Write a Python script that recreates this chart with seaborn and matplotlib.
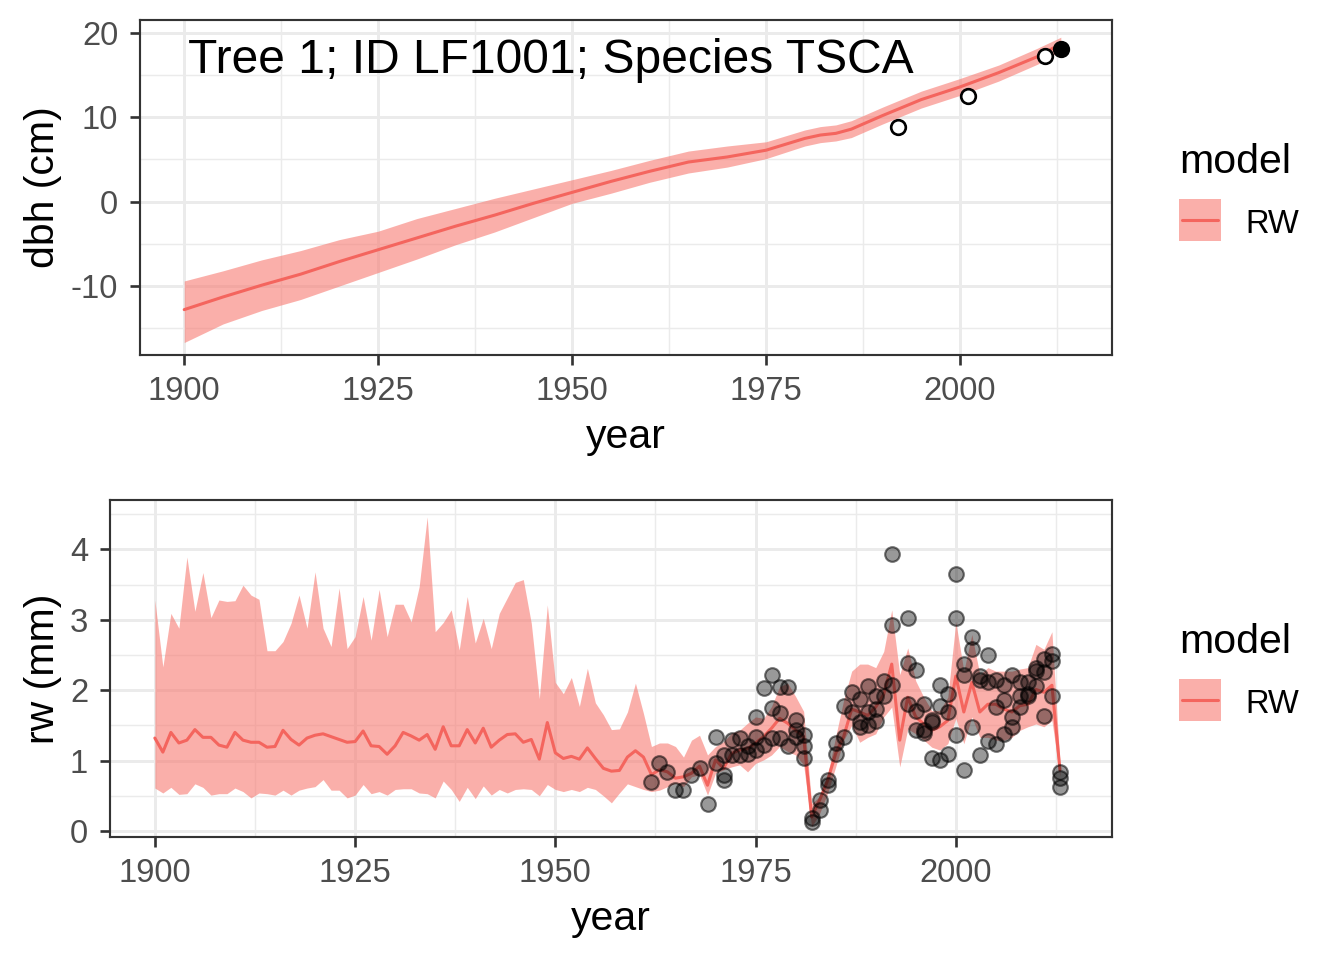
import numpy as np
import pandas as pd
import matplotlib
matplotlib.use('Agg')
import matplotlib.pyplot as plt
import seaborn as sns
from matplotlib.patches import Rectangle
from matplotlib.lines import Line2D
from matplotlib.ticker import MultipleLocator

# ---- datos: dbh (panel superior) ----
dbh_year = [1900, 1905, 1910, 1915, 1920, 1925, 1930, 1935, 1940, 1945, 1950, 1955,
            1960, 1965, 1970, 1975, 1980, 1982, 1984, 1986, 1988, 1990, 1995, 2000,
            2005, 2010, 2013]
dbh_med = [-12.8, -11.3, -9.9, -8.6, -7.1, -5.7, -4.3, -2.9, -1.6, -0.2, 1.1, 2.4,
           3.6, 4.7, 5.3, 6.1, 7.5, 7.9, 8.1, 8.6, 9.4, 10.2, 12.1, 13.6,
           15.3, 17.2, 18.7]
dbh_lo = [-16.7, -14.5, -12.9, -11.6, -10.0, -8.4, -6.8, -5.1, -3.6, -1.9, -0.2, 1.0,
          2.3, 3.4, 4.1, 5.1, 6.6, 7.0, 7.2, 7.6, 8.4, 9.2, 11.1, 12.6,
          14.3, 16.3, 17.9]
dbh_hi = [-9.4, -8.2, -6.9, -5.8, -4.5, -3.5, -2.0, -0.8, 0.4, 1.5, 2.6, 3.7,
          4.9, 6.0, 6.6, 7.1, 8.5, 8.9, 9.1, 9.6, 10.4, 11.2, 13.1, 14.6,
          16.2, 18.2, 19.5]
obs_year = [1992, 2001, 2011]
obs_dbh = [8.9, 12.5, 17.3]
last_year = [2013]
last_dbh = [18.1]

# ---- datos: rw (panel inferior) ----
rw_year = list(range(1900, 2014))
rw_med = [1.32, 1.12, 1.40, 1.25, 1.29, 1.44, 1.33, 1.33, 1.22, 1.19,
          1.40, 1.29, 1.26, 1.26, 1.19, 1.20, 1.43, 1.30, 1.22, 1.32,
          1.36, 1.38, 1.34, 1.30, 1.26, 1.27, 1.42, 1.21, 1.20, 1.09,
          1.21, 1.40, 1.35, 1.29, 1.37, 1.16, 1.48, 1.21, 1.21, 1.44,
          1.25, 1.46, 1.19, 1.29, 1.37, 1.38, 1.26, 1.30, 1.02, 1.54,
          1.11, 1.03, 1.06, 1.02, 1.18, 1.03, 0.89, 0.85, 0.86, 1.05,
          1.14, 1.05, 0.80, 0.87, 0.84, 0.75, 0.77, 0.82, 0.92, 0.65,
          1.01, 0.89, 1.10, 1.15, 1.17, 1.25, 1.34, 1.46, 1.60, 1.53,
          1.43, 1.34, 0.20, 0.44, 0.72, 1.10, 1.34, 1.73, 1.69, 1.64,
          1.76, 1.94, 2.37, 1.29, 1.90, 1.62, 1.52, 1.43, 1.48, 1.57,
          2.20, 1.69, 2.11, 1.69, 1.80, 1.80, 1.73, 1.69, 1.78, 1.80,
          2.01, 1.97, 2.07, 0.87]
rw_hi = [3.28, 2.33, 3.09, 2.88, 3.89, 3.12, 3.67, 3.03, 3.28, 3.26,
         3.27, 3.49, 3.35, 3.29, 2.56, 2.56, 2.69, 2.95, 3.35, 2.88,
         3.68, 2.88, 2.62, 3.45, 2.59, 2.76, 3.33, 2.71, 3.43, 2.76,
         3.22, 3.22, 2.97, 3.47, 4.46, 2.83, 2.96, 3.14, 2.57, 3.33,
         2.67, 3.02, 2.59, 3.09, 3.31, 3.53, 3.57, 2.95, 1.88, 3.21,
         2.11, 1.95, 2.18, 1.77, 2.31, 1.82, 1.65, 1.44, 1.45, 1.69,
         2.10, 1.67, 1.20, 1.25, 1.25, 1.20, 1.05, 1.29, 1.36, 1.08,
         1.20, 1.27, 1.39, 1.43, 1.53, 1.62, 1.60, 1.77, 2.05, 2.10,
         1.91, 1.70, 0.39, 0.49, 0.80, 1.34, 1.86, 2.27, 2.37, 2.37,
         2.32, 2.55, 3.14, 2.22, 2.60, 2.13, 1.90, 1.71, 1.71, 1.90,
         2.97, 2.27, 2.79, 2.22, 2.32, 2.27, 2.27, 2.27, 2.30, 2.32,
         2.65, 2.58, 2.83, 0.96]
rw_lo = [0.61, 0.54, 0.62, 0.52, 0.53, 0.67, 0.62, 0.51, 0.53, 0.53,
         0.61, 0.56, 0.47, 0.54, 0.53, 0.51, 0.58, 0.51, 0.58, 0.61,
         0.63, 0.73, 0.58, 0.58, 0.47, 0.51, 0.66, 0.53, 0.56, 0.51,
         0.59, 0.60, 0.60, 0.54, 0.53, 0.47, 0.71, 0.59, 0.42, 0.62,
         0.46, 0.64, 0.51, 0.59, 0.54, 0.59, 0.60, 0.59, 0.50, 0.66,
         0.59, 0.56, 0.59, 0.56, 0.62, 0.59, 0.50, 0.40, 0.54, 0.67,
         0.63, 0.59, 0.56, 0.58, 0.63, 0.68, 0.63, 0.77, 0.80, 0.51,
         0.82, 0.87, 0.91, 0.94, 0.84, 0.96, 1.01, 1.08, 1.20, 1.13,
         1.08, 0.94, 0.06, 0.25, 0.54, 0.91, 1.29, 1.50, 1.26, 1.33,
         1.38, 1.62, 1.76, 0.91, 1.45, 1.38, 1.29, 1.19, 1.15, 1.24,
         1.60, 1.24, 1.62, 1.33, 1.33, 1.29, 1.29, 1.33, 1.43, 1.48,
         1.52, 1.48, 1.57, 0.77]

# mediciones de anillos (núcleos)
pt_year = [1962, 1963, 1964, 1965, 1966, 1967, 1968, 1969,
           1970, 1970, 1971, 1971, 1971, 1972, 1972, 1973, 1973, 1974, 1974,
           1975, 1975, 1975, 1976, 1976, 1977, 1977, 1977, 1978, 1978, 1978,
           1979, 1979, 1980, 1980, 1980, 1981, 1981, 1981, 1982, 1982,
           1983, 1983, 1984, 1984, 1985, 1985, 1986, 1986,
           1987, 1987, 1988, 1988, 1988, 1989, 1989, 1989, 1990, 1990, 1990,
           1991, 1991, 1992, 1992, 1992, 1994, 1994, 1994, 1995, 1995, 1995,
           1996, 1996, 1996, 1997, 1997, 1997, 1998, 1998, 1998, 1999, 1999, 1999,
           2000, 2000, 2000, 2001, 2001, 2001, 2002, 2002, 2002, 2003, 2003, 2003,
           2004, 2004, 2004, 2005, 2005, 2005, 2006, 2006, 2006, 2007, 2007, 2007,
           2008, 2008, 2008, 2009, 2009, 2009, 2010, 2010, 2010, 2011, 2011, 2011,
           2012, 2012, 2012, 2013, 2013, 2013]
pt_rw = [0.70, 0.96, 0.84, 0.58, 0.58, 0.80, 0.89, 0.39,
         1.34, 0.96, 0.80, 0.73, 1.08, 1.29, 1.08, 1.32, 1.08, 1.20, 1.10,
         1.62, 1.34, 1.15, 2.03, 1.22, 2.22, 1.74, 1.32, 2.05, 1.67, 1.32,
         2.05, 1.20, 1.58, 1.44, 1.34, 1.36, 1.20, 1.03, 0.18, 0.13,
         0.44, 0.30, 0.72, 0.65, 1.25, 1.10, 1.34, 1.77,
         1.97, 1.69, 1.87, 1.55, 1.48, 2.06, 1.69, 1.50, 1.92, 1.73, 1.56,
         2.13, 1.92, 3.93, 2.93, 2.07, 3.03, 2.39, 1.81, 2.28, 1.71, 1.43,
         1.81, 1.43, 1.39, 1.57, 1.55, 1.03, 2.07, 1.78, 1.01, 1.94, 1.69, 1.09,
         3.65, 3.03, 1.36, 2.37, 2.22, 0.87, 2.76, 2.59, 1.48, 2.20, 2.15, 1.08,
         2.50, 2.11, 1.28, 2.15, 1.76, 1.24, 2.07, 1.86, 1.38, 2.22, 1.62, 1.48,
         2.11, 1.92, 1.76, 2.11, 1.94, 1.92, 2.32, 2.06, 2.27, 2.44, 2.26, 1.63,
         2.51, 2.41, 1.92, 0.84, 0.75, 0.62]

dbh_df = pd.DataFrame({'year': dbh_year, 'dbh': dbh_med, 'lo': dbh_lo, 'hi': dbh_hi})
rw_df = pd.DataFrame({'year': rw_year, 'rw': rw_med, 'lo': rw_lo, 'hi': rw_hi})
pts_df = pd.DataFrame({'year': pt_year, 'rw': pt_rw})

# ---- estilo tipo ggplot theme_bw ----
sns.set_theme(style='white')
plt.rcParams['font.family'] = ['Liberation Sans', 'DejaVu Sans']
plt.rcParams['axes.unicode_minus'] = False

RED = '#F8766D'
LINE_RED = '#F4655E'
BAND_ALPHA = 0.58
GRID = '#EBEBEB'
TICK_FS = 12.3
TITLE_FS = 15.4
W, H = 1344, 960

fig = plt.figure(figsize=(7, 5), dpi=192)
ax1 = fig.add_axes([140 / W, 1 - 355 / H, 972 / W, 335 / H])
ax2 = fig.add_axes([110 / W, 1 - 837 / H, 1002 / W, 337 / H])


def style_axis(ax, xlim, ylim, ymajor, yminor, ylabel, ylab_x):
    ax.set_xlim(*xlim)
    ax.set_ylim(*ylim)
    ax.xaxis.set_major_locator(MultipleLocator(25))
    ax.xaxis.set_minor_locator(MultipleLocator(12.5))
    ax.yaxis.set_major_locator(MultipleLocator(ymajor))
    ax.yaxis.set_minor_locator(MultipleLocator(yminor))
    ax.grid(True, which='major', color=GRID, linewidth=1.1, zorder=0)
    ax.grid(True, which='minor', color=GRID, linewidth=0.55, zorder=0)
    ax.set_axisbelow(True)
    for s in ax.spines.values():
        s.set_color('#333333')
        s.set_linewidth(0.8)
    ax.tick_params(axis='both', which='major', length=3.9, width=1.0, color='#333333',
                   labelsize=TICK_FS, labelcolor='#4D4D4D', bottom=True, left=True)
    ax.tick_params(axis='x', which='major', pad=4.0)
    ax.tick_params(axis='y', which='major', pad=4.3)
    ax.tick_params(axis='both', which='minor', length=0)
    ax.set_xlabel('year', fontsize=TITLE_FS, color='black', labelpad=4)
    ax.set_ylabel(ylabel, fontsize=TITLE_FS, color='black')
    ax.yaxis.set_label_coords(ylab_x, 0.5)


def add_legend(offset):
    # leyenda estilo ggplot: titulo, caja con banda + linea, etiqueta
    fig.text(1179 / W, 1 - (172.7 + offset) / H, 'model', fontsize=TITLE_FS,
             color='black', ha='left', va='baseline')
    fig.patches.append(Rectangle((1179 / W, 1 - (241 + offset) / H), 42 / W, 42 / H,
                                 transform=fig.transFigure, facecolor=RED,
                                 alpha=BAND_ALPHA, edgecolor='none'))
    fig.lines.append(Line2D([1182 / W, 1218 / W], [1 - (220 + offset) / H] * 2,
                            transform=fig.transFigure, color=LINE_RED, linewidth=1.15))
    fig.text(1245 / W, 1 - (232.7 + offset) / H, 'RW', fontsize=TICK_FS,
             color='black', ha='left', va='baseline')


# ---- panel superior: dbh ----
ax1.fill_between(dbh_df['year'], dbh_df['lo'], dbh_df['hi'], color=RED,
                 alpha=BAND_ALPHA, linewidth=0, zorder=2)
sns.lineplot(data=dbh_df, x='year', y='dbh', color=LINE_RED, linewidth=1.15, ax=ax1, zorder=3)
sns.scatterplot(x=obs_year, y=obs_dbh, s=30, facecolor='white', edgecolor='black',
                linewidth=1.0, ax=ax1, zorder=4)
sns.scatterplot(x=last_year, y=last_dbh, s=30, color='black', edgecolor='black',
                linewidth=1.0, ax=ax1, zorder=4)
style_axis(ax1, (1894.3, 2019.6), (-18.18, 21.54), 10, 5, 'dbh (cm)', (62 - 140) / 972)
ax1.text(1900.5, 15.2, 'Tree 1; ID LF1001; Species TSCA', fontsize=18,
         color='black', ha='left', va='baseline', zorder=5)

# ---- panel inferior: rw ----
ax2.fill_between(rw_df['year'], rw_df['lo'], rw_df['hi'], color=RED,
                 alpha=BAND_ALPHA, linewidth=0, zorder=2)
sns.lineplot(data=rw_df, x='year', y='rw', color=LINE_RED, linewidth=1.15, ax=ax2, zorder=3)
sns.scatterplot(data=pts_df, x='year', y='rw', s=30, color=(0, 0, 0, 0.4),
                edgecolor=(0, 0, 0, 0.55), linewidth=0.8, ax=ax2, zorder=4)
style_axis(ax2, (1894.4, 2019.5), (-0.085, 4.70), 1, 0.5, 'rw (mm)', (62 - 110) / 1002)

add_legend(0)
add_legend(480)

fig.savefig('out.png', dpi=192)
